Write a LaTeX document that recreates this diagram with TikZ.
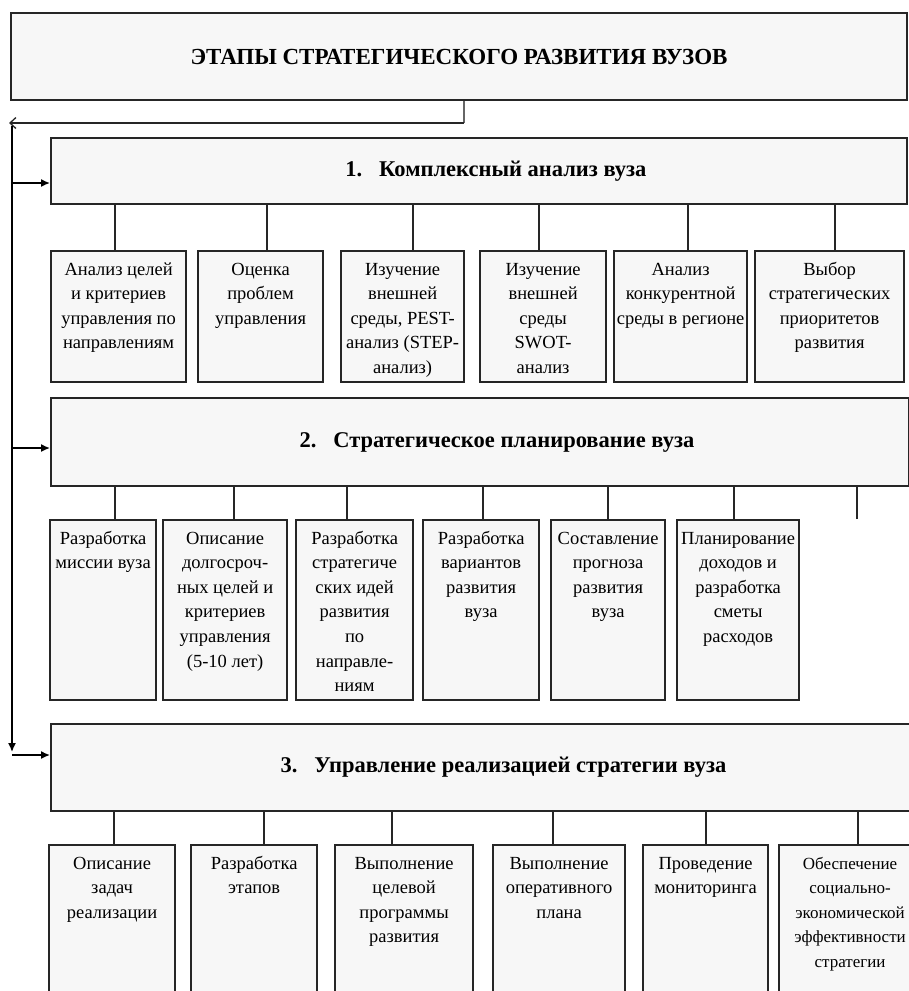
\documentclass[tikz,border=0pt]{standalone}
\usepackage{fontspec}
\setmainfont{Liberation Serif}
\usetikzlibrary{calc, arrows.meta, positioning}

% top aligned text inside a fixed box
\newcommand{\kidtext}[3]{\parbox[t][#1][t]{#2}{\centering\rule{0pt}{24pt}#3}}

\tikzset{
  stage/.style={draw=black!85, line width=2pt, fill=black!3, anchor=north west, inner sep=0pt,
    font=\fontsize{22.5}{26}\selectfont\bfseries},
  kid/.style={draw=black!85, line width=2.2pt, fill=black!3, anchor=north west, inner sep=0pt,
    font=\fontsize{18.5}{24.6}\selectfont},
  stub/.style={line width=2pt, draw=black!85},
  arr/.style={-{Latex[length=9pt,width=8pt]}, line width=1.5pt},
  openarr/.style={-{Straight Barb[length=6pt,width=11pt]}, line width=1.3pt, draw=black!85},
}

\begin{document}
\begin{tikzpicture}[x=1pt,y=-1pt]
            \useasboundingbox (0,0) rectangle (909,991);
            \clip (0,0) rectangle (909,991);

            % main stages
            \node [stage, minimum width=896, minimum height=87, font=\fontsize{23}{26}\selectfont\bfseries] (top) at (10,12) {\raisebox{-7pt}{ЭТАПЫ СТРАТЕГИЧЕСКОГО РАЗВИТИЯ ВУЗОВ}};
            \node [stage, minimum width=856, minimum height=66] (b1) at (50,137) {\raisebox{-9pt}{\hspace*{34pt}1.\ \ \ Комплексный анализ вуза}};
            \node [stage, minimum width=858, minimum height=88] (b2) at (50,397) {\hspace*{34pt}2.\ \ \ Стратегическое планирование вуза};
            \node [stage, minimum width=865, minimum height=87] (b3) at (50,723) {\raisebox{-2pt}{\hspace*{40pt}3.\ \ \ Управление реализацией стратегии вуза}};

            % rail on the left
            \coordinate (split) at (464,123);
            \coordinate (rtop) at (9,123);
            \coordinate (rstart) at (12,126);
            \coordinate (rbot) at (12,752);
            \coordinate (r1) at (12,183);
            \coordinate (r2) at (12,448);
            \coordinate (r3) at (12,755);
            \draw [line width=1.3pt, draw=black!60] (top.south -| split) -- (split);
            \draw [openarr] (split) -- (rtop);
            \draw [arr] (rstart) -- (rbot);
            \draw [arr] (r1) -- (r1 -| b1.west);
            \draw [arr] (r2) -- (r2 -| b2.west);
            \draw [arr] (r3) -- (r3 -| b3.west);

            % 1. analysis
            \node [kid] (c1) at (50,250) {\kidtext{131pt}{135pt}{Анализ целей\\ и критериев\\ управления по\\ направлениям}};
            \node [kid] (c2) at (197,250) {\kidtext{131pt}{125pt}{Оценка\\ проблем\\ управления}};
            \node [kid] (c3) at (340,250) {\kidtext{131pt}{123pt}{Изучение\\ внешней\\ среды, PEST-\\ анализ (STEP-\\ анализ)}};
            \node [kid] (c4) at (479,250) {\kidtext{131pt}{126pt}{Изучение\\ внешней\\ среды\\ SWOT-\\ анализ}};
            \node [kid] (c5) at (613,250) {\kidtext{131pt}{133pt}{Анализ\\ конкурентной\\ среды в регионе}};
            \node [kid] (c6) at (754,250) {\kidtext{131pt}{149pt}{Выбор\\ стратегических\\ приоритетов\\ развития}};
            \draw [stub] ([xshift=-4]c1.north) -- ([xshift=-4]c1.north |- b1.south);
            \draw [stub] ([xshift=6]c2.north) -- ([xshift=6]c2.north |- b1.south);
            \draw [stub] ([xshift=10]c3.north) -- ([xshift=10]c3.north |- b1.south);
            \draw [stub] ([xshift=-4]c4.north) -- ([xshift=-4]c4.north |- b1.south);
            \draw [stub] ([xshift=7]c5.north) -- ([xshift=7]c5.north |- b1.south);
            \draw [stub] ([xshift=5]c6.north) -- ([xshift=5]c6.north |- b1.south);

            % 2. planning
            \node [kid] (d1) at (49,519) {\kidtext{180pt}{106pt}{Разработка\\ миссии вуза}};
            \node [kid] (d2) at (162,519) {\kidtext{180pt}{124pt}{Описание\\ долгосроч-\\ ных целей и\\ критериев\\ управления\\ (5-10 лет)}};
            \node [kid] (d3) at (295,519) {\kidtext{180pt}{117pt}{Разработка\\ стратегиче\\ ских идей\\ развития\\ по\\ направле-\\ ниям}};
            \node [kid] (d4) at (422,519) {\kidtext{180pt}{116pt}{Разработка\\ вариантов\\ развития\\ вуза}};
            \node [kid] (d5) at (550,519) {\kidtext{180pt}{114pt}{Составление\\ прогноза\\ развития\\ вуза}};
            \node [kid] (d6) at (676,519) {\kidtext{180pt}{122pt}{Планирование\\ доходов и\\ разработка\\ сметы\\ расходов}};
            \coordinate (d7) at (857,519);
            \draw [stub] ([xshift=12]d1.north) -- ([xshift=12]d1.north |- b2.south);
            \draw [stub] ([xshift=9]d2.north) -- ([xshift=9]d2.north |- b2.south);
            \draw [stub] ([xshift=-8]d3.north) -- ([xshift=-8]d3.north |- b2.south);
            \draw [stub] ([xshift=2]d4.north) -- ([xshift=2]d4.north |- b2.south);
            \draw [stub] (d5.north) -- (d5.north |- b2.south);
            \draw [stub] ([xshift=-4]d6.north) -- ([xshift=-4]d6.north |- b2.south);
            \draw [stub] (d7) -- (d7 |- b2.south);

            % 3. implementation
            \node [kid] (e1) at (48,844) {\kidtext{170pt}{126pt}{Описание\\ задач\\ реализации}};
            \node [kid] (e2) at (190,844) {\kidtext{170pt}{126pt}{Разработка\\ этапов}};
            \node [kid] (e3) at (334,844) {\kidtext{170pt}{138pt}{Выполнение\\ целевой\\ программы\\ развития}};
            \node [kid] (e4) at (492,844) {\kidtext{170pt}{132pt}{Выполнение\\ оперативного\\ плана}};
            \node [kid] (e5) at (642,844) {\kidtext{170pt}{125pt}{Проведение\\ мониторинга}};
            \node [kid, font=\fontsize{17}{24.6}\selectfont] (e6) at (778,844) {\kidtext{170pt}{142pt}{Обеспечение\\ социально-\\ экономической\\ эффективности\\ стратегии}};
            \draw [stub] ([xshift=2]e1.north) -- ([xshift=2]e1.north |- b3.south);
            \draw [stub] ([xshift=10]e2.north) -- ([xshift=10]e2.north |- b3.south);
            \draw [stub] ([xshift=-12]e3.north) -- ([xshift=-12]e3.north |- b3.south);
            \draw [stub] ([xshift=-6]e4.north) -- ([xshift=-6]e4.north |- b3.south);
            \draw [stub] (e5.north) -- (e5.north |- b3.south);
            \draw [stub] ([xshift=8]e6.north) -- ([xshift=8]e6.north |- b3.south);
\end{tikzpicture}
\end{document}
